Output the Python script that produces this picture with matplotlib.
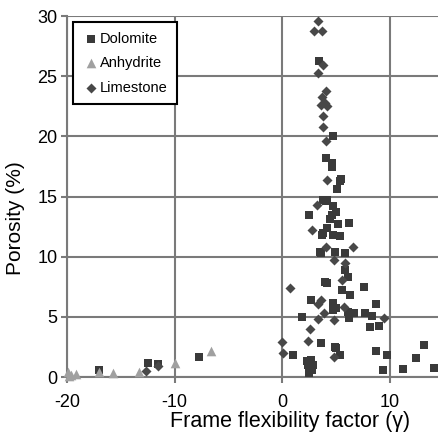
import matplotlib
matplotlib.use('Agg')
from matplotlib import pyplot as plt

plt.rcParams['font.family'] = ['Liberation Sans', 'DejaVu Sans']
plt.rcParams['axes.unicode_minus'] = False

# frame flexibility factor (gamma) vs porosity (%)
dolomite_x = [-17.0, -12.5, -11.5, -7.7,
              3.4, 4.7, 4.1, 4.6, 4.6, 5.5, 5.1, 5.4, 3.8, 4.2, 4.1, 4.7,
              2.5, 4.6, 5.0, 4.4, 5.2, 6.2, 3.8, 4.2, 3.7, 4.7, 5.4,
              3.5, 4.9, 5.8, 3.6, 5.8, 6.1, 4.0, 4.2, 7.6, 5.6, 6.3, 8.7,
              2.7, 4.7, 4.7, 5.0, 6.1, 6.7, 7.7, 8.3, 1.8, 6.2, 8.2, 9.0,
              3.6, 4.9, 5.0, 5.4, 8.7, 9.7, 1.0,
              2.3, 2.7, 2.5, 2.9, 2.5, 2.8, 2.4,
              13.2, 12.4, 14.1, 11.2, 9.4]
dolomite_y = [0.6, 1.2, 1.1, 1.65,
              26.25, 20.0, 18.25, 17.8, 17.5, 16.5, 15.6, 16.3, 14.75, 14.7, 14.6, 14.2,
              13.5, 13.5, 13.75, 13.1, 12.7, 12.8, 12.0, 12.4, 11.8, 11.8, 11.7,
              10.4, 10.4, 10.3, 10.3, 8.9, 8.3, 7.9, 7.8, 7.5, 7.2, 6.8, 6.1,
              6.4, 6.2, 5.6, 5.75, 5.4, 5.3, 5.3, 5.1, 5.0, 4.9, 4.2, 4.25,
              2.8, 2.5, 2.4, 1.8, 2.2, 1.8, 1.8,
              1.3, 1.4, 0.8, 1.0, 0.35, 0.6, 1.0,
              2.7, 1.6, 0.8, 0.7, 0.6]

anhydrite_x = [-19.9, -19.6, -19.2, -19.8, -17.0, -15.7, -13.3, -10.0, -6.6]
anhydrite_y = [0.4, 0.15, 0.25, 0.1, 0.45, 0.35, 0.4, 1.15, 2.2]

limestone_x = [3.3, 3.0, 3.7, 3.8, 3.3, 4.1, 3.7, 4.0, 3.6, 4.2, 3.8, 3.8, 4.1,
               4.2, 3.2, 2.8, 4.1, 6.6, 4.8, 5.8, 5.6, 0.7, 3.6, 3.3, 5.7,
               3.9, 3.3, 4.8, 9.5, 2.6, 2.4, 0.0, 0.1, 4.8, -12.7, -11.5]
limestone_y = [29.6, 28.75, 28.8, 25.9, 25.3, 23.75, 23.25, 22.8, 22.6, 22.5, 21.7, 20.8, 19.6,
               16.4, 14.3, 12.25, 10.8, 10.8, 9.75, 9.5, 8.1, 7.4, 6.4, 6.1, 5.8,
               5.3, 4.8, 4.75, 4.9, 4.0, 3.0, 2.9, 2.0, 1.7, 0.5, 0.9]

fig = plt.figure(figsize=(4.38, 4.36), dpi=100)
ax = fig.add_axes([0.153, 0.135, 0.85, 0.828])

ax.scatter(dolomite_x, dolomite_y, marker='s', s=34, color='#3a3a3a',
           label='Dolomite', zorder=3, clip_on=False, linewidths=0)
ax.scatter(anhydrite_x, anhydrite_y, marker='^', s=48, color='#a0a0a0',
           label='Anhydrite', zorder=3, clip_on=False, linewidths=0)
ax.scatter(limestone_x, limestone_y, marker='D', s=26, color='#484848',
           label='Limestone', zorder=3, clip_on=False, linewidths=0)

ax.set_xlim(-20, 14.6)
ax.set_ylim(0, 30)
ax.set_xticks([-20, -10, 0, 10])
ax.set_yticks([0, 5, 10, 15, 20, 25, 30])
ax.grid(True, color='#7a7a7a', linewidth=1.5)
ax.set_axisbelow(True)
for side in ['top', 'right']:
    ax.spines[side].set_visible(False)
for side in ['left', 'bottom']:
    ax.spines[side].set_color('#7a7a7a')
    ax.spines[side].set_linewidth(1.5)
ax.tick_params(axis='both', labelsize=13, color='#7a7a7a', width=1.5, length=4)
ax.tick_params(axis='x', pad=8)
ax.tick_params(axis='y', pad=3)

ax.set_xlabel('Frame flexibility factor (γ)', fontsize=15.5)
ax.xaxis.set_label_coords(0.598, -0.095)
ax.set_ylabel('Porosity (%)', fontsize=15)
ax.yaxis.set_label_coords(-0.112, 0.44)

leg = ax.legend(loc='upper left', bbox_to_anchor=(0.016, 0.983), borderaxespad=0,
                fontsize=10.5, markerscale=1.0, handletextpad=0.0, handlelength=1.2,
                labelspacing=0.72, borderpad=0.65, fancybox=False,
                framealpha=1, edgecolor='black')
leg.get_frame().set_linewidth(1.5)

plt.savefig('out.png', dpi=100)
